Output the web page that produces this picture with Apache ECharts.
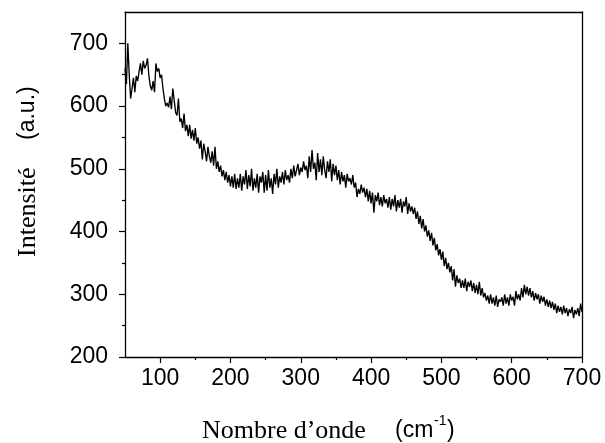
<!DOCTYPE html>
<html><head><meta charset="utf-8">
<script src="https://cdn.jsdelivr.net/npm/echarts@6/dist/echarts.min.js"></script>
<style>html,body{margin:0;padding:0;background:#fff}#c{width:605px;height:443px}</style>
</head><body><div id="c"></div><script>
// Raman spectrum, sampled every 2 cm-1 from 50 to 700 cm-1
const waveStart = 50;
const waveStep = 2;
const intensity = [
  660,635,700,650,612,628,645,622,648,640,
  655,668,650,672,660,665,676,648,632,625,
  640,622,668,655,660,645,650,628,612,600,
  605,598,615,595,628,630,590,585,612,575,
  580,565,588,560,570,552,570,548,562,545,
  565,540,550,532,545,515,540,528,512,535,
  520,510,528,505,535,500,512,495,505,488,
  498,482,495,478,490,472,488,470,492,468,
  485,470,492,465,488,475,498,468,490,472,
  500,465,485,470,492,462,488,478,495,462,
  490,465,498,470,485,460,492,475,500,470,
  488,478,495,475,498,482,490,478,500,485,
  505,488,498,508,490,502,495,512,498,505,
  485,520,495,530,500,510,482,525,495,515,
  490,520,498,485,512,495,515,480,508,490,
  505,482,498,475,495,480,490,470,492,480,
  485,475,490,470,478,455,468,460,475,462,
  470,455,468,448,465,445,462,430,458,448,
  462,442,455,440,458,445,452,438,455,435,
  452,440,458,432,450,438,452,430,448,440,
  455,428,445,432,440,428,438,420,432,412,
  425,405,420,400,410,392,402,385,398,378,
  390,370,380,362,372,355,368,345,358,340,
  350,335,345,322,340,312,330,318,325,310,
  322,310,325,305,320,312,322,305,318,302,
  315,300,320,298,310,295,302,290,298,285,
  300,285,295,282,298,280,292,288,295,282,
  300,285,295,282,300,290,296,282,305,292,
  300,290,310,295,315,300,312,298,310,295,
  305,290,302,292,300,285,298,288,296,282,
  292,280,290,278,288,275,285,270,282,272,
  280,268,282,270,278,265,276,270,280,262,
  275,268,278,265,285,272
];
const xTickLabels = [100, 200, 300, 400, 500, 600, 700];
const xMinorTicks = [150, 250, 350, 450, 550, 650];
const yTickLabels = [200, 300, 400, 500, 600, 700];
const yMinorTicks = [250, 350, 450, 550, 650];
const xTitle = 'Nombre d\u2019onde';
const xUnit = '(cm';
const xUnitExp = '-1';
const yTitle = 'Intensit\u00e9';
const yUnit = '(a.u.)';

const points = intensity.map((v, i) => [waveStart + i * waveStep, v]);
const lineCol = '#000';
const axLine = { show: true, onZero: false, lineStyle: { color: lineCol, width: 1.3 } };
const sans = '"Liberation Sans", Arial, sans-serif';
const serif = '"Liberation Serif", "Times New Roman", serif';

const chart = echarts.init(document.getElementById('c'), null, { renderer: 'canvas' });
chart.setOption({
  animation: false,
  backgroundColor: '#fff',
  grid: { left: 125, right: 23, top: 12, bottom: 86, containLabel: false },
  xAxis: [
    { type: 'value', min: 50, max: 700, position: 'bottom', axisLine: axLine,
      axisTick: { show: true, customValues: xTickLabels, length: 6, lineStyle: { color: lineCol, width: 1.2 } },
      axisLabel: { customValues: xTickLabels, fontFamily: sans, fontSize: 23, color: '#000', margin: 10 },
      splitLine: { show: false } },
    { type: 'value', min: 50, max: 700, position: 'bottom', axisLine: { show: false },
      axisTick: { show: true, customValues: xMinorTicks, length: 3, lineStyle: { color: lineCol, width: 1.2 } },
      axisLabel: { show: false }, splitLine: { show: false } },
    { type: 'value', min: 50, max: 700, position: 'top', axisLine: axLine,
      axisTick: { show: false }, axisLabel: { show: false }, splitLine: { show: false } }
  ],
  yAxis: [
    { type: 'value', min: 200, max: 750, position: 'left', axisLine: axLine,
      axisTick: { show: true, customValues: yTickLabels, length: 6, lineStyle: { color: lineCol, width: 1.2 } },
      axisLabel: { customValues: yTickLabels, fontFamily: sans, fontSize: 23, color: '#000', margin: 17 },
      splitLine: { show: false } },
    { type: 'value', min: 200, max: 750, position: 'left', axisLine: { show: false },
      axisTick: { show: true, customValues: yMinorTicks, length: 3, lineStyle: { color: lineCol, width: 1.2 } },
      axisLabel: { show: false }, splitLine: { show: false } },
    { type: 'value', min: 200, max: 750, position: 'right', axisLine: axLine,
      axisTick: { show: false }, axisLabel: { show: false }, splitLine: { show: false } }
  ],
  series: [{
    type: 'line', xAxisIndex: 0, yAxisIndex: 0, data: points,
    showSymbol: false, symbol: 'none',
    lineStyle: { color: '#000', width: 1.35 }
  }],
  graphic: [
    { type: 'text', x: 202, y: 431, style: { text: xTitle, font: '26px ' + serif, fill: '#000', align: 'left', verticalAlign: 'middle' } },
    { type: 'text', x: 395, y: 431, style: { text: xUnit, font: '23px ' + sans, fill: '#000', align: 'left', verticalAlign: 'middle' } },
    { type: 'text', x: 434, y: 421, style: { text: xUnitExp, font: '14px ' + sans, fill: '#000', align: 'left', verticalAlign: 'middle' } },
    { type: 'text', x: 447, y: 431, style: { text: ')', font: '23px ' + sans, fill: '#000', align: 'left', verticalAlign: 'middle' } },
    { type: 'group', x: 28, y: 171, rotation: Math.PI / 2, children: [
      { type: 'text', x: -86, y: 0, style: { text: yTitle, font: '26px ' + serif, fill: '#000', align: 'left', verticalAlign: 'middle' } },
      { type: 'text', x: 31, y: 0, style: { text: yUnit, font: '23px ' + sans, fill: '#000', align: 'left', verticalAlign: 'middle' } }
    ] }
  ]
});
</script></body></html>
